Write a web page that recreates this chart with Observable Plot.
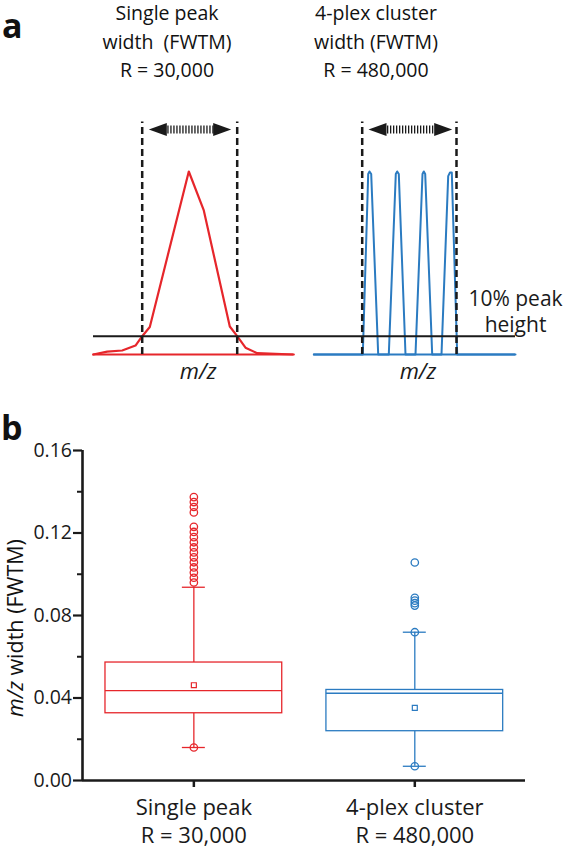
<!DOCTYPE html>
<html><head><meta charset="utf-8">
<script src="https://cdn.jsdelivr.net/npm/d3@7"></script>
<script src="https://cdn.jsdelivr.net/npm/@observablehq/plot@0.6"></script>
<style>
body{margin:0;background:#fff;font-family:"Open Sans",sans-serif;color:#111;}
#fig{position:relative;width:566px;height:849px;overflow:hidden;background:#fff;}
#fig > svg{position:absolute;left:0;}
.lbl{position:absolute;white-space:pre;color:#111;}
</style></head><body><div id="fig"></div>
<script>
// ---------- data: panel a (schematic spectra, m/z in arbitrary display units) ----------
const titles = [["Single peak", "width  (FWTM)", "R = 30,000"], ["4-plex cluster", "width (FWTM)", "R = 480,000"]];
const titleCenters = [167, 376];
const redMz  = [92.7, 106.7, 121.7, 135, 141.7, 149.3, 188.3, 203.3, 229.3, 236.7, 245, 256.7, 293.3];
const redInt = [0, 0.016, 0.022, 0.049, 0.1, 0.15, 1.0, 0.787, 0.153, 0.1, 0.037, 0.007, 0];
const blueMz  = [313.3, 362.3, 367.7, 369, 370.7, 377.7, 388.3, 395.3, 396.7, 398.3, 405, 415, 422, 423.3, 424.7, 431.7, 441, 447.7, 449.5, 451.3, 456.7, 515];
const blueInt = [0, 0, 0.986, 1, 0.986, 0, 0, 0.986, 1, 0.986, 0, 0, 0.986, 1, 0.986, 0, 0, 0.975, 0.995, 0.995, 0, 0];
const redBaseline = [92.7, 293.3];
const blueBaseline = [313.3, 515];
const tenPctLine = {y: 0.1, x1: 93, x2: 515};
const fwtmEdges = [141.7, 236.7, 361.7, 456];
const arrows = [{l: 148.3, r: 230.7}, {l: 368, r: 451.7}];
const arrowLevel = 1.23, edgeTop = 1.27;
const mzLabelX = [197.6, 417.5];
const tenPctLabel = {x: 515, text: "10% peak\nheight"};

// ---------- data: panel b (box plot statistics) ----------
const groups = ["Single peak", "4-plex cluster"];
const groupR = ["R = 30,000", "R = 480,000"];
const q1     = [0.0326, 0.0239];
const median = [0.0436, 0.0423];
const q3     = [0.0572, 0.0439];
const mean   = [0.0462, 0.0352];
const whiskLo = [0.0160, 0.0069];
const whiskHi = [0.0937, 0.0719];
const redOutliers  = [0.1374, 0.1350, 0.1326, 0.1300, 0.1230, 0.1205, 0.1180, 0.1155, 0.1130, 0.1106, 0.1082, 0.1058, 0.1033, 0.1008, 0.0983, 0.0960];
const blueOutliers = [0.1057, 0.0886, 0.0872, 0.0860, 0.0848];
const extremes = [[0.0160], [0.0069, 0.0719]];
const yMajor = [0, 0.04, 0.08, 0.12, 0.16];
const yMinor = [0.02, 0.06, 0.10, 0.14];

const RED = "#e6262b", BLUE = "#2b7bc1", INK = "#1a1a1a";
const colors = [RED, BLUE];
const FONT = "Open Sans";

const fig = document.getElementById("fig");
function addLabel(html, style) {
  const d = document.createElement("div");
  d.className = "lbl";
  d.innerHTML = html;
  Object.assign(d.style, style);
  fig.appendChild(d);
}

// ---------- panel a ----------
const redPts = redMz.map((m, i) => ({mz: m, v: redInt[i]}));
const bluePts = blueMz.map((m, i) => ({mz: m, v: blueInt[i]}));
const headLeft = {draw(ctx) { ctx.moveTo(0, 0); ctx.lineTo(18, -6.5); ctx.lineTo(18, 6.5); ctx.closePath(); }};
const headRight = {draw(ctx) { ctx.moveTo(0, 0); ctx.lineTo(-18, -6.5); ctx.lineTo(-18, 6.5); ctx.closePath(); }};
const arrowData = arrows.map(a => ({...a, y: arrowLevel}));

const pa = Plot.plot({
  width: 566, height: 400,
  marginLeft: 0, marginRight: 0, marginTop: 171, marginBottom: 46,
  x: {domain: [0, 566], axis: null},
  y: {domain: [0, 1], axis: null},
  style: {fontFamily: FONT, overflow: "visible", background: "transparent"},
  marks: [
    Plot.ruleY([{y: 0, x1: redBaseline[0], x2: redBaseline[1]}], {y: "y", x1: "x1", x2: "x2", stroke: RED, strokeWidth: 1.8}),
    Plot.ruleY([{y: 0, x1: blueBaseline[0], x2: blueBaseline[1]}], {y: "y", x1: "x1", x2: "x2", stroke: BLUE, strokeWidth: 1.8}),
    Plot.line(redPts, {x: "mz", y: "v", stroke: RED, strokeWidth: 2.2, strokeLinejoin: "round"}),
    Plot.line(bluePts, {x: "mz", y: "v", stroke: BLUE, strokeWidth: 2, strokeLinejoin: "round"}),
    Plot.ruleY([tenPctLine], {y: "y", x1: "x1", x2: "x2", stroke: INK, strokeWidth: 2}),
    Plot.ruleX(fwtmEdges.map(x => ({x, y1: 0, y2: edgeTop})), {x: "x", y1: "y1", y2: "y2", stroke: INK, strokeWidth: 2.5, strokeDasharray: "7,4"}),
    Plot.ruleY(arrowData, {y: "y", x1: d => d.l + 16, x2: d => d.r - 16, stroke: INK, strokeWidth: 8, strokeDasharray: "1.3,1.7"}),
    Plot.dot(arrowData, {x: "l", y: "y", symbol: headLeft, fill: INK, stroke: "none"}),
    Plot.dot(arrowData, {x: "r", y: "y", symbol: headRight, fill: INK, stroke: "none"}),
    Plot.text(mzLabelX.map(x => ({x, y: 0})), {x: "x", y: "y", text: () => "m/z", fontStyle: "italic", fontSize: 22, lineAnchor: "top", dy: 8.4, fill: INK}),
    Plot.text([{...tenPctLabel, y: tenPctLine.y}], {x: "x", y: "y", text: "text", fontSize: 21, lineHeight: 1.27, lineAnchor: "bottom", dy: -4, fill: INK})
  ]
});
pa.style.top = "0px";
fig.appendChild(pa);

titles.forEach((lines, i) => {
  addLabel(lines.join("\n"), {left: (titleCenters[i] - 110) + "px", width: "220px", top: "-1px", textAlign: "center", fontSize: "19.5px", lineHeight: "28.7px"});
});
addLabel("a", {left: "2px", top: "8px", fontSize: "34px", fontWeight: "700", lineHeight: "34px"});

// ---------- panel b ----------
const xDom = [-0.504, 1.501], yDom = [0, 0.16];
const half = 0.4, cap = 0.052;
const stats = groups.map((g, i) => ({i, q1: q1[i], median: median[i], q3: q3[i], mean: mean[i], lo: whiskLo[i], hi: whiskHi[i], c: colors[i]}));
const outPts = [
  ...redOutliers.map(v => ({i: 0, v, c: RED})),
  ...blueOutliers.map(v => ({i: 1, v, c: BLUE})),
  ...extremes.flatMap((arr, i) => arr.map(v => ({i, v, c: colors[i]})))
];

const pb = Plot.plot({
  width: 566, height: 429,
  marginTop: 30, marginBottom: 69, marginLeft: 82, marginRight: 41,
  x: {domain: xDom, axis: null},
  y: {domain: yDom, axis: null},
  color: {type: "identity"},
  style: {fontFamily: FONT, overflow: "visible", background: "transparent", color: INK},
  marks: [
    Plot.axisY({ticks: yMinor, tickSize: 5, tickFormat: () => "", strokeWidth: 2, label: null}),
    Plot.axisY({ticks: yMajor, tickSize: 9, tickPadding: 1.5, tickFormat: d3.format(".2f"), fontSize: 19.5, strokeWidth: 2.2, label: null}),
    Plot.axisX({ticks: [0, 1], tickSize: 7, tickPadding: 7, tickFormat: i => groups[i] + "\n" + groupR[i], fontSize: 22, lineHeight: 1.3, strokeWidth: 2.5, label: null}),
    Plot.ruleX([{x: xDom[0], y1: yDom[0], y2: yDom[1]}], {x: "x", y1: "y1", y2: "y2", stroke: INK, strokeWidth: 2.6}),
    Plot.ruleY([0], {stroke: INK, strokeWidth: 2.6}),
    Plot.ruleX(stats, {x: "i", y1: "q3", y2: "hi", stroke: "c", strokeWidth: 1.3}),
    Plot.ruleX(stats, {x: "i", y1: "lo", y2: "q1", stroke: "c", strokeWidth: 1.3}),
    Plot.ruleY(stats, {y: "hi", x1: d => d.i - cap, x2: d => d.i + cap, stroke: "c", strokeWidth: 1.3}),
    Plot.ruleY(stats, {y: "lo", x1: d => d.i - cap, x2: d => d.i + cap, stroke: "c", strokeWidth: 1.3}),
    Plot.rect(stats, {x1: d => d.i - half, x2: d => d.i + half, y1: "q1", y2: "q3", stroke: "c", fill: "white", strokeWidth: 1.3}),
    Plot.ruleY(stats, {y: "median", x1: d => d.i - half, x2: d => d.i + half, stroke: "c", strokeWidth: 1.3}),
    Plot.dot(stats, {x: "i", y: "mean", symbol: "square", r: 2.8, stroke: "c", fill: "none", strokeWidth: 1.2}),
    Plot.dot(outPts, {x: "i", y: "v", r: 3.7, stroke: "c", fill: "none", strokeWidth: 1.3})
  ]
});
pb.style.top = "420px";
fig.appendChild(pb);

addLabel("b", {left: "1px", top: "410px", fontSize: "34px", fontWeight: "700", lineHeight: "34px"});
addLabel("<i>m/z</i> width (FWTM)", {left: "15px", top: "628px", transform: "translate(-50%,-50%) rotate(-90deg)", fontSize: "21.5px", lineHeight: "28.6px", whiteSpace: "nowrap"});
</script></body></html>
